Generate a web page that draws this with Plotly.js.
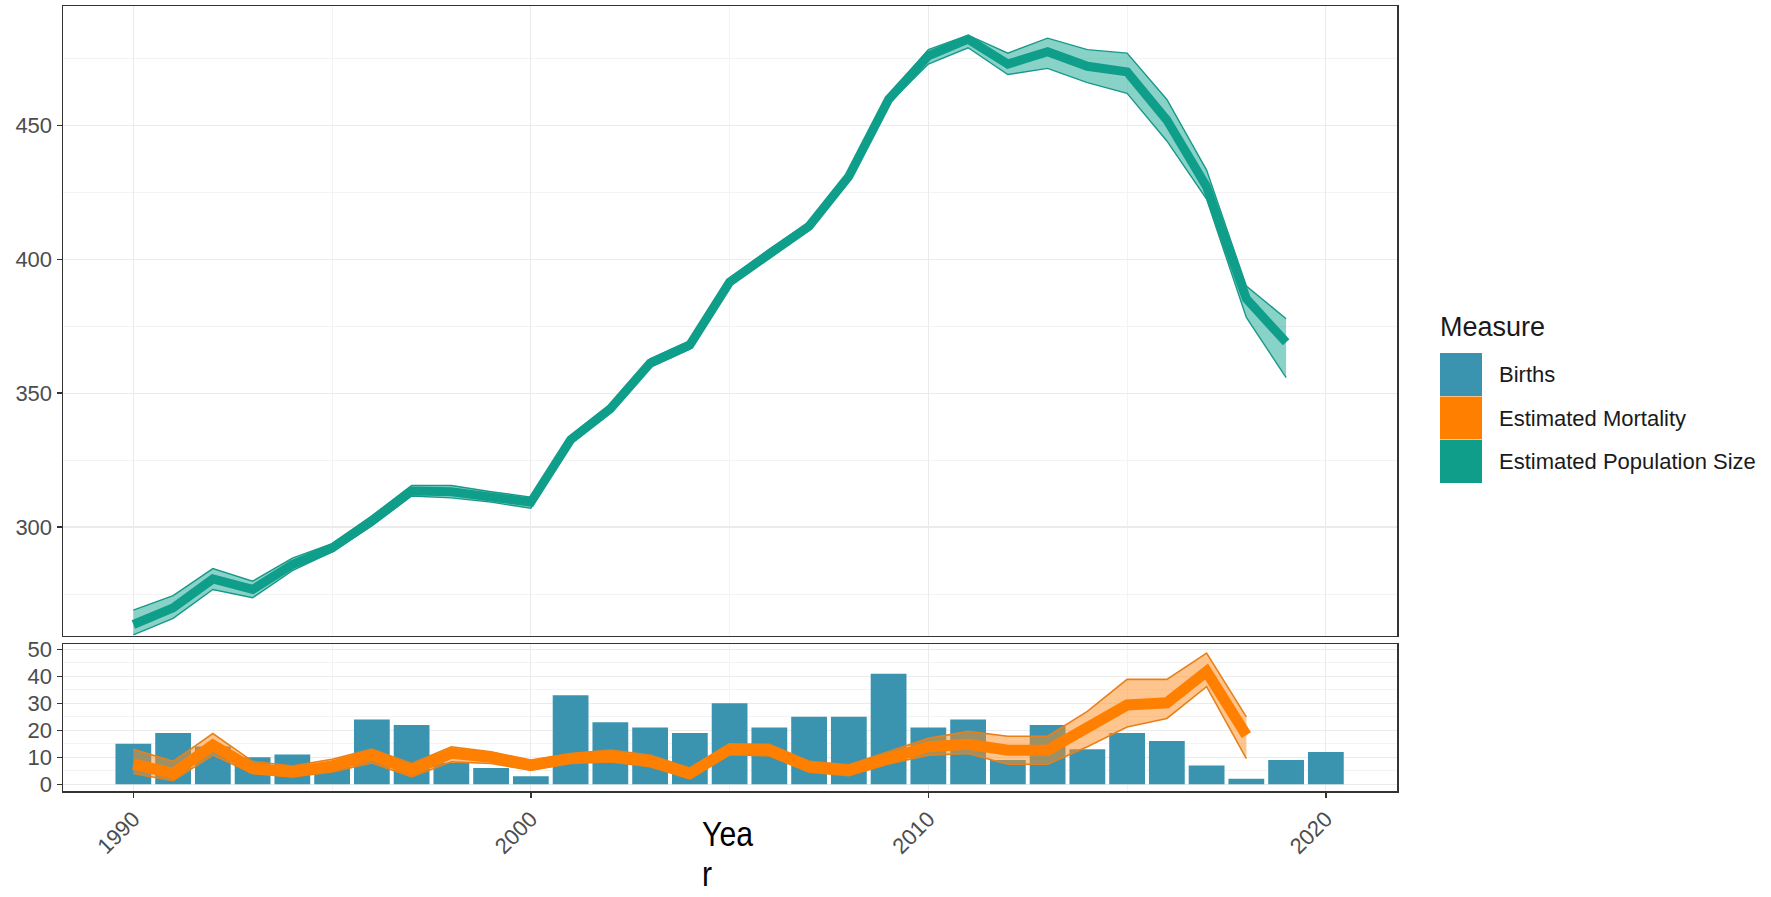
<!DOCTYPE html>
<html>
<head>
<meta charset="utf-8">
<script src="https://cdn.plot.ly/plotly-3.0.1.min.js"></script>
<style>
  html, body { margin: 0; padding: 0; background: #ffffff; }
  #chart { width: 1771px; height: 897px; }
</style>
</head>
<body>
<div id="chart"></div>
<script>
// ---------------- data ----------------
const birthYears = [1990,1991,1992,1993,1994,1995,1996,1997,1998,1999,2000,2001,2002,2003,2004,2005,2006,2007,2008,2009,2010,2011,2012,2013,2014,2015,2016,2017,2018,2019,2020];
const births     = [15,19,14,10,11,7,24,22,8,6,3,33,23,21,19,30,21,25,25,41,21,24,9,22,13,19,16,7,2,9,12];

const mortYears  = [1990,1991,1992,1993,1994,1995,1996,1997,1998,1999,2000,2001,2002,2003,2004,2005,2006,2007,2008,2009,2010,2011,2012,2013,2014,2015,2016,2017,2018];
const mortMean   = [7.5,4,14.5,5.8,4.6,6.8,10.8,5.2,11.5,10,7,9.6,10.4,8.5,4,13,12.7,6.5,5.2,9.6,13.9,14.8,12.6,12.6,20.7,29.4,30.2,41.8,18.2];
const mortUpper  = [13,8.5,18.8,8.5,6.8,9.3,13,7.7,13.9,12,9,11.4,12.7,10.8,6,15,14.8,8.5,7.2,12,17,19.6,17.8,17.8,27,38.9,38.9,48.6,25];
const mortLower  = [4,1.3,10.8,4,2.7,4.6,7.9,2.7,8.3,7.7,5.2,7.7,8.3,6.5,2,11,10.5,4.5,3.2,7.5,10.8,11.4,7.4,7.4,13.9,21.2,24.4,36.2,9.5];

const popYears   = [1990,1991,1992,1993,1994,1995,1996,1997,1998,1999,2000,2001,2002,2003,2004,2005,2006,2007,2008,2009,2010,2011,2012,2013,2014,2015,2016,2017,2018,2019];
const popMean    = [263.6,269.8,280.6,276.7,286,292.2,302.3,313.5,313.2,311.3,309.3,332.6,344.2,361.2,368,391.5,402.3,412.4,431,459.7,476,482.2,472.9,477.5,472.1,470,452,427.1,385.3,369];
const popUpper   = [269,274.4,284.5,279.8,288.4,293.8,304.2,315.5,315.5,313.2,311.2,334.2,345.8,362.8,369.6,393,403.8,413.9,432.5,461.2,478.3,483.7,477,482.6,478.3,477,459.7,433.3,390,377.8];
const popLower   = [259.7,265.9,276.7,273.6,283.7,290.7,300.4,311.6,310.9,309.3,307,331,342.6,359.6,366.4,390,400.8,410.9,429.5,458.2,472.9,479,469,471.3,466,462,444.2,422.5,378.3,355.8];

const legendTitle  = "Measure";
const legendLabels = ["Births", "Estimated Mortality", "Estimated Population Size"];
const xTitleLines = ["Yea", "r"];

// ---------------- styles ----------------
const colBirth = "#3A94B0";
const colMort = "#FF8000";
const colMortEdge = "#E8801A";
const colMortFill = "rgba(255,140,30,0.5)";
const colPop = "#0F9E89";
const colPopEdge = "#16998A";
const colPopFill = "rgba(20,165,145,0.5)";
const legendCols = [colBirth, colMort, colPop];

const W = 1771, H = 897;
const M = {l: 63, r: W - 1397, t: 6, b: H - 791};
const plotW = W - M.l - M.r, plotH = H - M.t - M.b;
const px2x = px => (px - M.l) / plotW;
const px2y = py => (H - M.b - py) / plotH;

const FONT = "Liberation Sans, Arial, sans-serif";
const tickFont = {family: FONT, size: 22, color: "#4d4d4d"};
const gridMajor = "#ebebeb", gridMinor = "#f3f3f3";

const traces = [
  {type: "bar", x: birthYears, y: births, width: 0.9, marker: {color: colBirth, line: {width: 0}},
   xaxis: "x2", yaxis: "y2", showlegend: false, hoverinfo: "x+y"},
  {type: "scatter", mode: "lines", x: mortYears, y: mortUpper, line: {color: colMortEdge, width: 1.6},
   xaxis: "x2", yaxis: "y2", showlegend: false},
  {type: "scatter", mode: "lines", x: mortYears, y: mortLower, line: {color: colMortEdge, width: 1.6},
   fill: "tonexty", fillcolor: colMortFill, xaxis: "x2", yaxis: "y2", showlegend: false},
  {type: "scatter", mode: "lines", x: mortYears, y: mortMean, line: {color: colMort, width: 11},
   xaxis: "x2", yaxis: "y2", showlegend: false},
  {type: "scatter", mode: "lines", x: popYears, y: popUpper, line: {color: colPopEdge, width: 1.4},
   xaxis: "x", yaxis: "y", showlegend: false},
  {type: "scatter", mode: "lines", x: popYears, y: popLower, line: {color: colPopEdge, width: 1.4},
   fill: "tonexty", fillcolor: colPopFill, xaxis: "x", yaxis: "y", showlegend: false},
  {type: "scatter", mode: "lines", x: popYears, y: popMean, line: {color: colPop, width: 9},
   xaxis: "x", yaxis: "y", showlegend: false}
];

const xRange = [1988.23, 2021.79];
const axisCommon = {
  showline: true, mirror: true, linecolor: "#333333", linewidth: 1.5,
  showgrid: true, gridcolor: gridMajor, gridwidth: 1.3, zeroline: false,
  tickfont: tickFont, tickcolor: "#333333", tickwidth: 1.4, ticklen: 5
};

const shapes = [], annotations = [];
// legend keys (manual)
const keyTops = [353, 396.5, 440];
const keyH = 43;
legendLabels.forEach((lab, i) => {
  shapes.push({type: "rect", xref: "paper", yref: "paper",
    x0: px2x(1440), x1: px2x(1482), y0: px2y(keyTops[i] + keyH), y1: px2y(keyTops[i]),
    fillcolor: legendCols[i], line: {width: 0}});
  annotations.push({xref: "paper", yref: "paper", x: px2x(1497), y: px2y(keyTops[i] + keyH / 2),
    xanchor: "left", yanchor: "middle", showarrow: false, text: lab,
    font: {family: FONT, size: 22, color: "#1a1a1a"}});
});
annotations.push({xref: "paper", yref: "paper", x: px2x(1438), y: px2y(327),
  xanchor: "left", yanchor: "middle", showarrow: false, text: legendTitle,
  font: {family: FONT, size: 27, color: "#1a1a1a"}});
// x axis title, wrapped onto two lines as in the reference
annotations.push({xref: "paper", yref: "paper", x: px2x(700), y: px2y(811),
  xanchor: "left", yanchor: "top", align: "left", showarrow: false, text: xTitleLines[0],
  font: {family: FONT, size: 36, color: "#000000"}});
annotations.push({xref: "paper", yref: "paper", x: px2x(700), y: px2y(896),
  xanchor: "left", yanchor: "bottom", align: "left", showarrow: false, text: xTitleLines[1],
  font: {family: FONT, size: 36, color: "#000000"}});

const layout = {
  width: W, height: H, margin: M,
  paper_bgcolor: "#ffffff", plot_bgcolor: "#ffffff",
  font: {family: FONT},
  showlegend: false,
  xaxis: Object.assign({}, axisCommon, {anchor: "y", range: xRange, tickmode: "linear", tick0: 1990, dtick: 10,
    showticklabels: false, ticks: "",
    minor: {dtick: 5, tick0: 1990, showgrid: true, gridcolor: gridMinor, gridwidth: 1}}),
  yaxis: Object.assign({}, axisCommon, {anchor: "x", domain: [px2y(635.5), 1], range: [259.5, 494.6],
    tickmode: "linear", tick0: 0, dtick: 50, ticks: "outside",
    minor: {dtick: 25, tick0: 0, showgrid: true, gridcolor: gridMinor, gridwidth: 1}}),
  xaxis2: Object.assign({}, axisCommon, {anchor: "y2", range: xRange, tickmode: "linear", tick0: 1990, dtick: 10,
    ticks: "outside", tickangle: -45,
    minor: {dtick: 5, tick0: 1990, showgrid: true, gridcolor: gridMinor, gridwidth: 1}}),
  yaxis2: Object.assign({}, axisCommon, {anchor: "x2", domain: [0, px2y(644)], range: [-2.5, 52],
    tickmode: "linear", tick0: 0, dtick: 10, ticks: "outside",
    minor: {dtick: 5, tick0: 0, showgrid: true, gridcolor: gridMinor, gridwidth: 1}}),
  shapes: shapes,
  annotations: annotations
};

Plotly.newPlot("chart", traces, layout, {staticPlot: true, displayModeBar: false}).then(gd => {
  // condense the axis-title lettering horizontally, as in the reference
  const texts = gd.querySelectorAll(".annotation-text");
  texts.forEach(t => {
    const s = t.textContent;
    if (s === xTitleLines[0] || s === xTitleLines[1]) {
      const bb = t.getBBox();
      const x0 = bb.x;
      const prev = t.getAttribute("transform") || "";
      t.setAttribute("transform", prev + " translate(" + x0 + ",0) scale(0.84,1) translate(" + (-x0) + ",0)");
    }
  });
});
</script>
</body>
</html>
